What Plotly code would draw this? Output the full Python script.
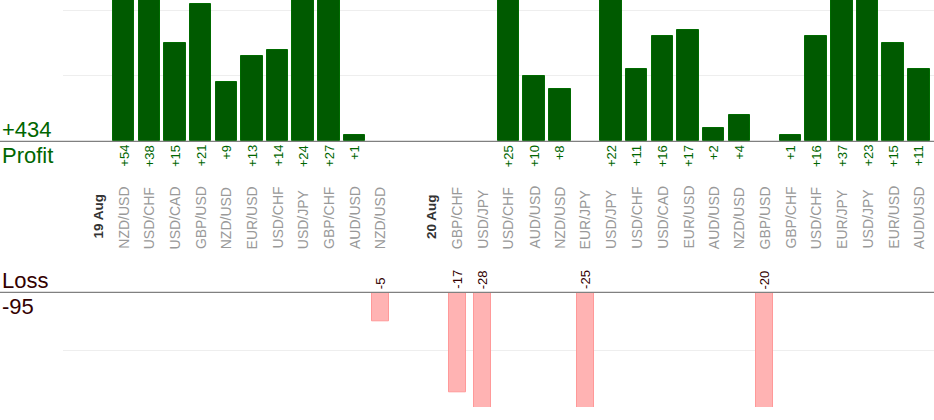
import plotly.graph_objects as go

W, H = 934, 420

# ---- data ----
categories = ["19 Aug", "NZD/USD", "USD/CHF", "USD/CAD", "GBP/USD", "NZD/USD", "EUR/USD",
              "USD/CHF", "USD/JPY", "GBP/CHF", "AUD/USD", "NZD/USD", "",
              "20 Aug", "GBP/CHF", "USD/JPY", "USD/CHF", "AUD/USD", "NZD/USD", "EUR/JPY",
              "USD/JPY", "USD/CHF", "USD/CAD", "EUR/USD", "AUD/USD", "NZD/USD", "GBP/USD",
              "GBP/CHF", "USD/CHF", "EUR/JPY", "USD/JPY", "EUR/USD", "AUD/USD"]
date_labels = ["19 Aug", "20 Aug"]
profit = [None, 54, 38, 15, 21, 9, 13, 14, 24, 27, 1, None, None,
          None, None, None, 25, 10, 8, None, 22, 11, 16, 17, 2, 4, None,
          1, 16, 37, 23, 15, 11]
loss = [None, None, None, None, None, None, None, None, None, None, None, -5, None,
        None, -17, -28, None, None, None, -25, None, None, None, None, None, None, -20,
        None, None, None, None, None, None]
total_profit = "+434"
total_loss = "-95"
profit_title = "Profit"
loss_title = "Loss"

GREEN_TXT = "#006600"
LOSS_TXT = "#330000"

def py(p):
    """pixel y -> paper y"""
    return 1 - p / H

idx = list(range(len(categories)))

fig = go.Figure()
fig.add_trace(go.Bar(x=idx, y=profit, width=0.84, xaxis="x", yaxis="y",
                     marker=dict(color="#005a00", line=dict(color="#006a00", width=1)),
                     hoverinfo="skip"))
fig.add_trace(go.Bar(x=idx, y=loss, width=0.66, xaxis="x", yaxis="y2",
                     marker=dict(color="#ffb3b3", line=dict(color="#ff9999", width=1)),
                     hoverinfo="skip"))

ann = []
# category labels
for i, c in enumerate(categories):
    if not c:
        continue
    if c in date_labels:
        ann.append(dict(x=i, y=py(241), xref="x", yref="paper", text="<b>%s</b>" % c,
                        textangle=-90, xanchor="center", yanchor="bottom", showarrow=False,
                        font=dict(family="Liberation Sans, Arial", size=13.5, color="#333333")))
    else:
        ann.append(dict(x=i, y=py(251), xref="x", yref="paper", text=c,
                        textangle=-90, xanchor="center", yanchor="bottom", showarrow=False,
                        font=dict(family="Liberation Sans, Arial", size=14, color="#999999")))
# value labels
for i, v in enumerate(profit):
    if v is None:
        continue
    ann.append(dict(x=i, y=py(143), xref="x", yref="paper", text="+%d" % v,
                    textangle=-90, xanchor="center", yanchor="top", showarrow=False,
                    font=dict(family="Liberation Sans, Arial", size=13, color=GREEN_TXT)))
for i, v in enumerate(loss):
    if v is None:
        continue
    ann.append(dict(x=i, y=py(291), xref="x", yref="paper", text="%d" % v,
                    textangle=-90, xanchor="center", yanchor="bottom", showarrow=False,
                    font=dict(family="Liberation Sans, Arial", size=13, color=LOSS_TXT)))
# totals / titles
big = dict(family="Liberation Sans, Arial", size=22)
ann.append(dict(x=0, y=py(144), xref="paper", yref="paper", text=total_profit, xanchor="left",
                yanchor="bottom", showarrow=False, font=dict(**big, color=GREEN_TXT), xshift=-63))
ann.append(dict(x=0, y=py(141), xref="paper", yref="paper", text=profit_title, xanchor="left",
                yanchor="top", showarrow=False, font=dict(**big, color=GREEN_TXT), xshift=-63))
ann.append(dict(x=0, y=py(295), xref="paper", yref="paper", text=loss_title, xanchor="left",
                yanchor="bottom", showarrow=False, font=dict(**big, color=LOSS_TXT), xshift=-63))
ann.append(dict(x=0, y=py(292), xref="paper", yref="paper", text=total_loss, xanchor="left",
                yanchor="top", showarrow=False, font=dict(**big, color=LOSS_TXT), xshift=-63))

left_px = 63
dom_w = W - left_px
shapes = []
for yb in (141.3, 292.3):
    shapes.append(dict(type="line", xref="paper", yref="paper", x0=-left_px / dom_w, x1=1,
                       y0=py(yb), y1=py(yb), line=dict(color="#808080", width=1.2), layer="above"))

fig.update_layout(
    width=W, height=H, margin=dict(l=left_px, r=0, t=0, b=0),
    paper_bgcolor="white", plot_bgcolor="white", showlegend=False,
    bargap=0, barmode="overlay",
    xaxis=dict(range=[-1.365, 32.59], visible=False, fixedrange=True),
    yaxis=dict(domain=[py(141.3), 1], range=[0, 21.57], dtick=10, showticklabels=False,
               gridcolor="#eeeeee", zeroline=False, fixedrange=True),
    yaxis2=dict(domain=[py(407), py(292.3)], range=[-19.56, 0], dtick=10, showticklabels=False,
                gridcolor="#eeeeee", zeroline=False, anchor="x", fixedrange=True),
    annotations=ann, shapes=shapes,
)

fig.write_html("out.html", config={"displayModeBar": False},
               post_script="document.body.style.margin='0';document.body.style.overflow='hidden';")
